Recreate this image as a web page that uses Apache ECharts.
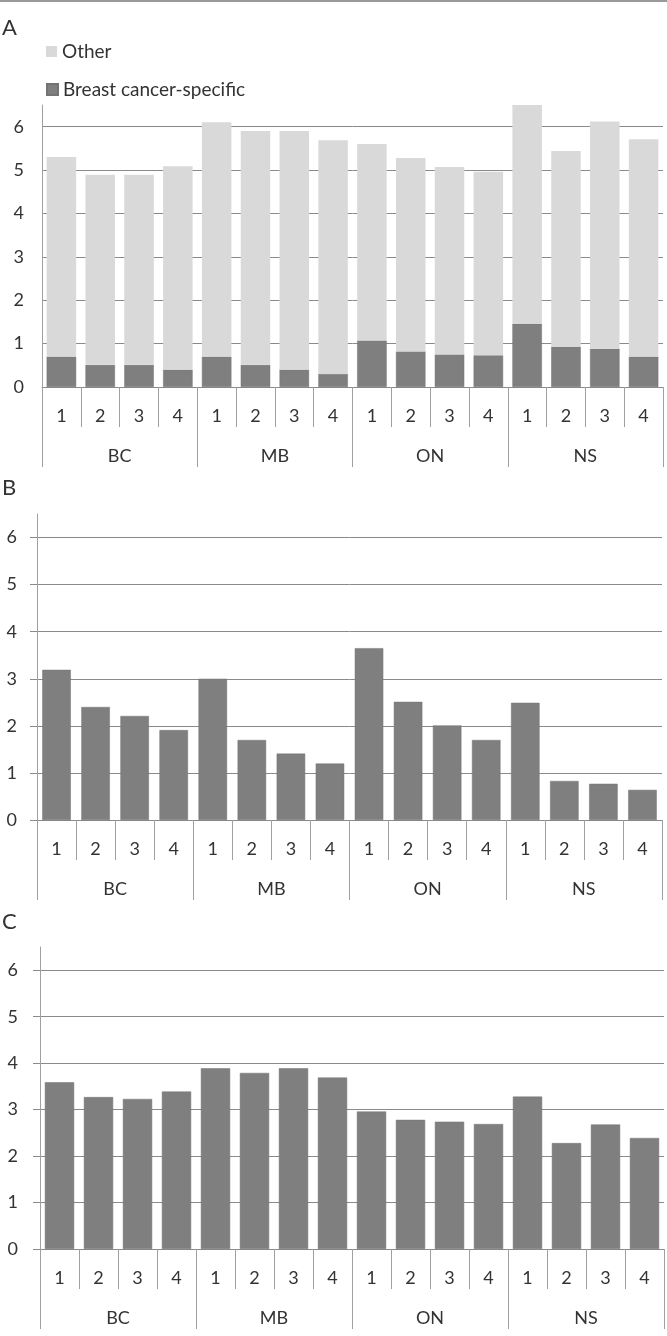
<!DOCTYPE html>
<html>
<head>
<meta charset="utf-8">
<script src="https://cdn.jsdelivr.net/npm/echarts@6/dist/echarts.min.js"></script>
<style>
html,body{margin:0;padding:0;background:#fff;}
#chart{width:667px;height:1336px;}
</style>
</head>
<body>
<div id="chart"></div>
<script>
// ---- data ----
const periods = ['1', '2', '3', '4'];
const provinces = ['BC', 'MB', 'ON', 'NS'];
const yTicks = [0, 1, 2, 3, 4, 5, 6];
const legendNames = ['Other', 'Breast cancer-specific'];
// Panel A (stacked): breast cancer-specific (bottom) and other (top)
const specificA = [0.70, 0.51, 0.51, 0.40, 0.70, 0.51, 0.40, 0.30, 1.07, 0.82, 0.75, 0.73, 1.46, 0.93, 0.88, 0.70];
const otherA    = [4.60, 4.38, 4.38, 4.69, 5.40, 5.39, 5.50, 5.39, 4.53, 4.46, 4.32, 4.23, 5.04, 4.51, 5.24, 5.01];
// Panel B
const valuesB = [3.19, 2.40, 2.21, 1.91, 3.00, 1.70, 1.41, 1.20, 3.65, 2.51, 2.01, 1.70, 2.49, 0.83, 0.77, 0.64];
// Panel C
const valuesC = [3.59, 3.27, 3.23, 3.39, 3.89, 3.79, 3.89, 3.69, 2.96, 2.78, 2.74, 2.69, 3.28, 2.28, 2.68, 2.39];

const categories = [];
provinces.forEach(function () { periods.forEach(function (p) { categories.push(p); }); });

// ---- styling ----
const FONT = 'Lato, "Open Sans", sans-serif';
const TXT = '#333333';
const GRIDC = '#8a8a8a';
const AXC = '#a0a0a0';
const DARK = '#7f7f7f';
const LIGHT = '#d9d9d9';
const FS = 18;

const grids = [
  { left: 42, right: 4, top: 105, height: 282 },
  { left: 37, right: 5, top: 514, height: 306 },
  { left: 40, right: 3, top: 947, height: 302 }
];
const yMargins = [18, 20, 22];
const yTickShow = [false, true, true];

const xAxes = [], yAxes = [];
grids.forEach(function (g, i) {
  xAxes.push({
    type: 'category', gridIndex: i, data: categories, position: 'bottom',
    axisLine: { show: true, lineStyle: { color: GRIDC, width: 1 } },
    axisTick: { show: true, interval: 0, alignWithLabel: false, length: 40, lineStyle: { color: AXC } },
    axisLabel: { interval: 0, margin: 20, fontSize: FS, lineHeight: FS, color: TXT, fontFamily: FONT },
    splitLine: { show: false }
  });
  xAxes.push({
    type: 'category', gridIndex: i, data: provinces, position: 'bottom',
    axisLine: { show: false },
    axisTick: { show: true, interval: 0, alignWithLabel: false, length: 80, lineStyle: { color: AXC } },
    axisLabel: { interval: 0, margin: 60, fontSize: FS, lineHeight: FS, color: TXT, fontFamily: FONT },
    splitLine: { show: false }
  });
  yAxes.push({
    type: 'value', gridIndex: i, min: 0, max: 6.5, interval: 1,
    axisLine: { show: true, lineStyle: { color: AXC, width: 1 } },
    axisTick: { show: yTickShow[i], inside: false, length: 7, customValues: yTicks, lineStyle: { color: GRIDC } },
    axisLabel: { customValues: yTicks, margin: yMargins[i], fontSize: FS, color: TXT, fontFamily: FONT },
    splitLine: { show: true, lineStyle: { color: GRIDC, width: 1 } }
  });
});

const series = [
  { name: legendNames[1], type: 'bar', stack: 'a', xAxisIndex: 0, yAxisIndex: 0, data: specificA,
    barCategoryGap: '24%', itemStyle: { color: DARK, borderColor: '#747474', borderWidth: 0.5 } },
  { name: legendNames[0], type: 'bar', stack: 'a', xAxisIndex: 0, yAxisIndex: 0, data: otherA,
    barCategoryGap: '24%', itemStyle: { color: LIGHT } },
  { name: 'B', type: 'bar', xAxisIndex: 2, yAxisIndex: 1, data: valuesB,
    barCategoryGap: '27%', itemStyle: { color: DARK, borderColor: '#747474', borderWidth: 0.5 } },
  { name: 'C', type: 'bar', xAxisIndex: 4, yAxisIndex: 2, data: valuesC,
    barCategoryGap: '25%', itemStyle: { color: DARK, borderColor: '#747474', borderWidth: 0.5 } }
];

const legendCommon = {
  orient: 'vertical', itemWidth: 11, itemHeight: 11, selectedMode: false,
  icon: 'rect', padding: 0,
  textStyle: { fontSize: 19, color: TXT, fontFamily: FONT }
};

const option = {
  animation: false,
  backgroundColor: '#fff',
  legend: [
    Object.assign({}, legendCommon, { data: [legendNames[0]], left: 46, top: 42 }),
    Object.assign({}, legendCommon, { data: [legendNames[1]], left: 46, top: 80 })
  ],
  grid: grids.map(function (g) { return Object.assign({ containLabel: false }, g); }),
  xAxis: xAxes,
  yAxis: yAxes,
  series: series,
  graphic: [
    { type: 'line', shape: { x1: 0, y1: 1, x2: 667, y2: 1 }, style: { stroke: '#999', lineWidth: 2 } },
    { type: 'text', left: 2, top: 17, style: { text: 'A', fontSize: 22, fill: '#333', fontFamily: FONT } },
    { type: 'text', left: 2, top: 477, style: { text: 'B', fontSize: 22, fill: '#333', fontFamily: FONT } },
    { type: 'text', left: 2, top: 911, style: { text: 'C', fontSize: 22, fill: '#333', fontFamily: FONT } }
  ]
};

const chart = echarts.init(document.getElementById('chart'), null, { renderer: 'canvas' });
chart.setOption(option);
</script>
</body>
</html>
